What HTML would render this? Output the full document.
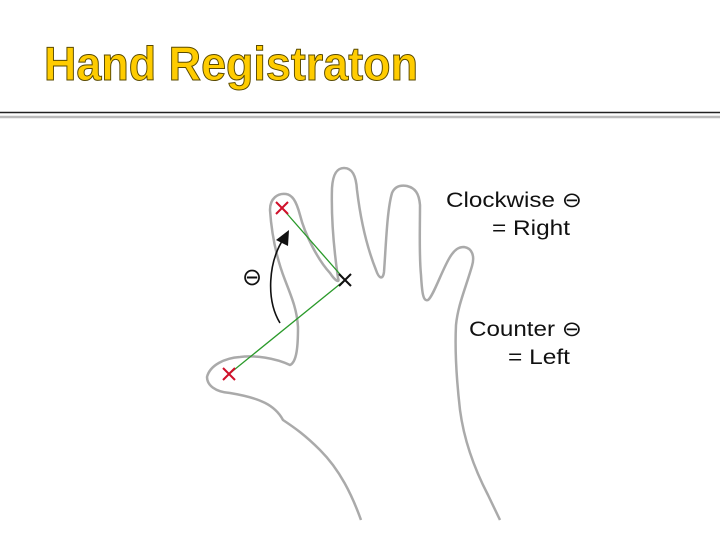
<!DOCTYPE html>
<html><head><meta charset="utf-8"><style>
body{margin:0;background:#fff}
svg{display:block}
text{font-family:"Liberation Sans",sans-serif}
</style></head><body>
<svg width="720" height="540" viewBox="0 0 720 540">
<rect width="720" height="540" fill="#fff"/>
<text x="44" y="80" font-size="47" font-weight="bold" fill="#ffcc00" stroke="#5a4a00" stroke-width="1" textLength="374" lengthAdjust="spacingAndGlyphs">Hand Registraton</text>
<line x1="0" y1="112.5" x2="720" y2="112.5" stroke="#222" stroke-width="1.5"/>
<line x1="0" y1="117" x2="720" y2="117" stroke="#bbb" stroke-width="2.5"/>
<path d="M361,520 C352,495 340,470 320,450 C305,435 295,428 283,420 C275,405 260,398 230,393 C215,392 207,385 207,377 C210,365 225,358 240,357 C255,355 275,358 290,365 C297,362 298,345 298,327 C297,310 292,298 285,280 C278,262 272,240 270,210 C270,198 278,193 286,194 C292,195 296,200 300,215 C305,235 318,260 330,273 C336,282 340,283 338,278 C334,250 331,220 332,188 C333,172 338,168 344,168 C352,168 356,175 357,190 C360,215 366,245 376,270 C379,279 383,280 384,272 C386,245 387,210 392,193 C395,186 401,185 407,186 C415,188 419,193 420,205 C420,230 419,255 421,275 C422,292 423,302 428,300 C433,297 442,270 450,257 C455,249 459,247 464,247 C472,248 475,256 472,266 C465,290 458,305 456,325 C455,345 456,375 460,410 C464,440 475,470 488,495 L500,520" fill="none" stroke="#aaa" stroke-width="2.5" stroke-linejoin="round"/>
<line x1="282" y1="208" x2="345" y2="280" stroke="#2a9a2a" stroke-width="1.3"/>
<line x1="229" y1="374" x2="345" y2="280" stroke="#2a9a2a" stroke-width="1.3"/>
<g stroke="#d0102a" stroke-width="2"><line x1="276" y1="202" x2="288" y2="214"/><line x1="288" y1="202" x2="276" y2="214"/></g>
<g stroke="#d0102a" stroke-width="2"><line x1="223" y1="368" x2="235" y2="380"/><line x1="235" y1="368" x2="223" y2="380"/></g>
<g stroke="#111" stroke-width="2"><line x1="339" y1="274" x2="351" y2="286"/><line x1="351" y1="274" x2="339" y2="286"/></g>
<path d="M280,323 C266,300 268,262 284,238" fill="none" stroke="#111" stroke-width="1.6"/>
<polygon points="289,230 276,240 288,246" fill="#111"/>
<text x="242" y="285" font-size="24" fill="#111">⊖</text>
<text x="446" y="207" font-size="21" fill="#111" textLength="136" lengthAdjust="spacingAndGlyphs">Clockwise ⊖</text>
<text x="492" y="235" font-size="21" fill="#111" textLength="78" lengthAdjust="spacingAndGlyphs">= Right</text>
<text x="469" y="336" font-size="21" fill="#111" textLength="113" lengthAdjust="spacingAndGlyphs">Counter ⊖</text>
<text x="508" y="364" font-size="21" fill="#111" textLength="62" lengthAdjust="spacingAndGlyphs">= Left</text>
</svg>
</body></html>
